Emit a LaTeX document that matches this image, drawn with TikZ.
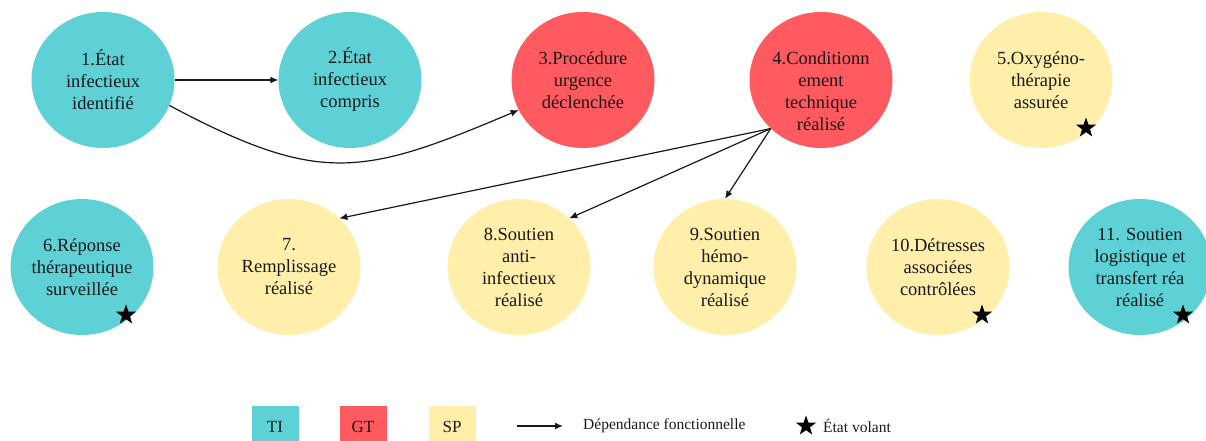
\documentclass[tikz,border=0pt]{standalone}
\usepackage{fontspec}
\setmainfont{Liberation Serif}
\usetikzlibrary{shapes.geometric,arrows.meta}
\definecolor{tiC}{RGB}{93,209,214}
\definecolor{gtC}{RGB}{255,90,95}
\definecolor{spC}{RGB}{255,239,170}
\tikzset{
  state/.style={ellipse, minimum width=143pt, minimum height=136pt, inner sep=0pt, align=center, text=black!90, font=\fontsize{18.5}{22}\selectfont},
  ti/.style={state, fill=tiC},
  gt/.style={state, fill=gtC},
  sp/.style={state, fill=spC},
  vstar/.style={star, star points=5, star point ratio=2.5, fill=black, minimum size=21pt, inner sep=0pt},
  arr/.style={draw=black!90, line width=1.2pt, -{Latex[length=8pt,width=7pt]}},
  legbox/.style={minimum width=47pt, minimum height=42pt, inner sep=0pt, font=\fontsize{17}{19}\selectfont, text=black!90},
  legtext/.style={anchor=west, inner sep=0pt, font=\fontsize{15.5}{18}\selectfont, text=black!90}
}
\begin{document}
\begin{tikzpicture}[x=1pt,y=1pt]
\useasboundingbox (0,0) rectangle (1206,441);
% top row
\node[ti] (n1) at (103,361) {1.État\\infectieux\\identifié};
\node[ti] (n2) at (350,361) {2.État\\infectieux\\compris};
\node[gt] (n3) at (583,361) {3.Procédure\\urgence\\déclenchée};
\node[gt] (n4) at (821,361) {};
\node[align=center, inner sep=0pt, text=black!90, font=\fontsize{18.5}{22}\selectfont] (n4t) at (821,350) {4.Conditionn\\ement\\technique\\réalisé};
\node[sp] (n5) at (1041,361) {5.Oxygéno-\\thérapie\\assurée};
% bottom row
\node[ti] (n6) at (82,174) {6.Réponse\\thérapeutique\\surveillée};
\node[sp] (n7) at (289,174) {7.\\Remplissage\\réalisé};
\node[sp] (n8) at (519,174) {8.Soutien\\anti-\\infectieux\\réalisé};
\node[sp] (n9) at (725,174) {9.Soutien\\hémo-\\dynamique\\réalisé};
\node[sp] (n10) at (938,174) {10.Détresses\\associées\\contrôlées};
\node[ti] (n11) at (1140,174) {11. Soutien\\logistique et\\transfert réa\\réalisé};
% stars
\node[vstar] (s5) at (1086,313) {};
\node[vstar] (s6) at (126,126) {};
\node[vstar] (s10) at (982,126) {};
\node[vstar] (s11) at (1183,126) {};
% connectors
\draw[arr] (n1.east) -- (n2.west);
\draw[arr] (n1.-21) .. controls +(-28:170) and +(203:170) .. (n3.205);
\draw[arr] (n4.224) -- (n7.44);
\draw[arr] (n4.224) -- (n8.44);
\draw[arr] (n4.224) -- (n9.north);
% legend
\node[legbox, fill=tiC] (lti) at (275,14) {TI};
\node[legbox, fill=gtC] (lgt) at (363,14) {GT};
\node[legbox, fill=spC] (lsp) at (452,14) {SP};
\coordinate (la1) at (517,15);
\coordinate (la2) at (563,15);
\draw[arr] (la1) -- (la2);
\node[legtext] (ldep) at (583,15) {Dépendance fonctionnelle};
\node[vstar] (lstar) at (806,15) {};
\node[legtext] (lvol) at (823,15) {État volant};
\end{tikzpicture}
\end{document}
